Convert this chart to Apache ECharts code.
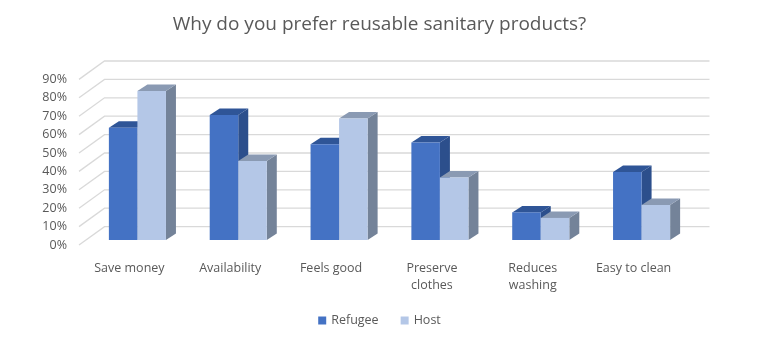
<!DOCTYPE html>
<html>
<head>
<meta charset="utf-8">
<script src="https://cdn.jsdelivr.net/npm/echarts@6/dist/echarts.min.js"></script>
<style>html,body{margin:0;padding:0;background:#fff}#c{width:759px;height:340px}</style>
</head>
<body>
<div id="c"></div>
<script>
var categories = ['Save money', 'Availability', 'Feels good', 'Preserve\nclothes', 'Reduces\nwashing', 'Easy to clean'];
var refugee = [0.61, 0.68, 0.52, 0.53, 0.15, 0.37];
var host = [0.81, 0.43, 0.66, 0.34, 0.12, 0.19];
var yTicks = [0, 0.1, 0.2, 0.3, 0.4, 0.5, 0.6, 0.7, 0.8, 0.9];

var FONT = 'Open Sans';
var WALL_DX = 25.5, WALL_DY = 18.4;   // depth of floor (front -> back wall)
var BAR_OX = 8, BAR_OY = 5;           // bar front plane offset from front
var BAR_DX = 10, BAR_DY = 6.5;        // bar depth
var BAR_FRAC = 0.283;

var colors = {
  Refugee: {front: '#4472C4', top: '#2F5597', side: '#2C4F8C'},
  Host: {front: '#B4C7E7', top: '#8A9AB3', side: '#748399'}
};

function gridRender(params, api) {
  var cs = params.coordSys;
  var y = api.coord([categories[0], api.value(0)])[1];
  var left = cs.x, right = cs.x + cs.width;
  return {
    type: 'polyline',
    shape: {points: [[left, y], [left + WALL_DX, y - WALL_DY], [right + WALL_DX, y - WALL_DY]]},
    style: {stroke: '#D9D9D9', lineWidth: 1.3, fill: null}
  };
}

function barRender(name, idx) {
  return function (params, api) {
    var cat = api.value(0), v = api.value(1);
    var top = api.coord([cat, v]);
    var base = api.coord([cat, 0]);
    var band = api.size([1, 0])[0];
    var w = band * BAR_FRAC;
    var cx = top[0] + BAR_OX;
    var x0 = idx === 0 ? cx - w : cx;
    var yt = top[1] - BAR_OY, yb = base[1] - BAR_OY;
    var c = colors[name];
    return {
      type: 'group',
      children: [
        {type: 'polygon', shape: {points: [[x0 + w, yt], [x0 + w + BAR_DX, yt - BAR_DY], [x0 + w + BAR_DX, yb - BAR_DY], [x0 + w, yb]]}, style: {fill: c.side}},
        {type: 'polygon', shape: {points: [[x0, yt], [x0 + BAR_DX, yt - BAR_DY], [x0 + w + BAR_DX, yt - BAR_DY], [x0 + w, yt]]}, style: {fill: c.top}},
        {type: 'rect', shape: {x: x0, y: yt, width: w, height: yb - yt}, style: {fill: c.front}}
      ]
    };
  };
}

var chart = echarts.init(document.getElementById('c'), null, {renderer: 'canvas'});
chart.setOption({
  animation: false,
  backgroundColor: '#fff',
  textStyle: {fontFamily: FONT},
  title: {
    text: 'Why do you prefer reusable sanitary products?',
    left: 'center', top: 10,
    textStyle: {fontFamily: FONT, fontSize: 19, fontWeight: 'normal', color: '#595959'}
  },
  legend: {
    data: ['Refugee', 'Host'],
    bottom: 8, left: 'center',
    icon: 'rect', itemWidth: 8, itemHeight: 8, itemGap: 22,
    textStyle: {fontFamily: FONT, fontSize: 12.5, color: '#595959'}
  },
  grid: {left: 79, right: 75, top: 79.4, bottom: 95, containLabel: false},
  xAxis: {
    type: 'category', data: categories,
    axisLine: {show: false}, axisTick: {show: false}, splitLine: {show: false},
    axisLabel: {color: '#595959', fontFamily: FONT, fontSize: 12.5, margin: 15, lineHeight: 17, interval: 0}
  },
  yAxis: {
    type: 'value', min: 0, max: 0.9, interval: 0.1,
    axisLine: {show: false}, axisTick: {show: false}, splitLine: {show: false},
    axisLabel: {color: '#595959', fontFamily: FONT, fontSize: 12.5, margin: 12, padding: [4, 0, 0, 0],
      formatter: function (v) { return Math.round(v * 100) + '%'; }}
  },
  series: [
    {type: 'custom', name: 'grid', silent: true, renderItem: gridRender,
      data: yTicks.map(function (t) { return [t]; }), encode: {y: 0}, z: 1},
    {type: 'custom', name: 'Refugee', renderItem: barRender('Refugee', 0),
      itemStyle: {color: colors.Refugee.front},
      data: categories.map(function (c, i) { return [c, refugee[i]]; }), encode: {x: 0, y: 1}, z: 2},
    {type: 'custom', name: 'Host', renderItem: barRender('Host', 1),
      itemStyle: {color: colors.Host.front},
      data: categories.map(function (c, i) { return [c, host[i]]; }), encode: {x: 0, y: 1}, z: 3}
  ]
});
</script>
</body>
</html>
